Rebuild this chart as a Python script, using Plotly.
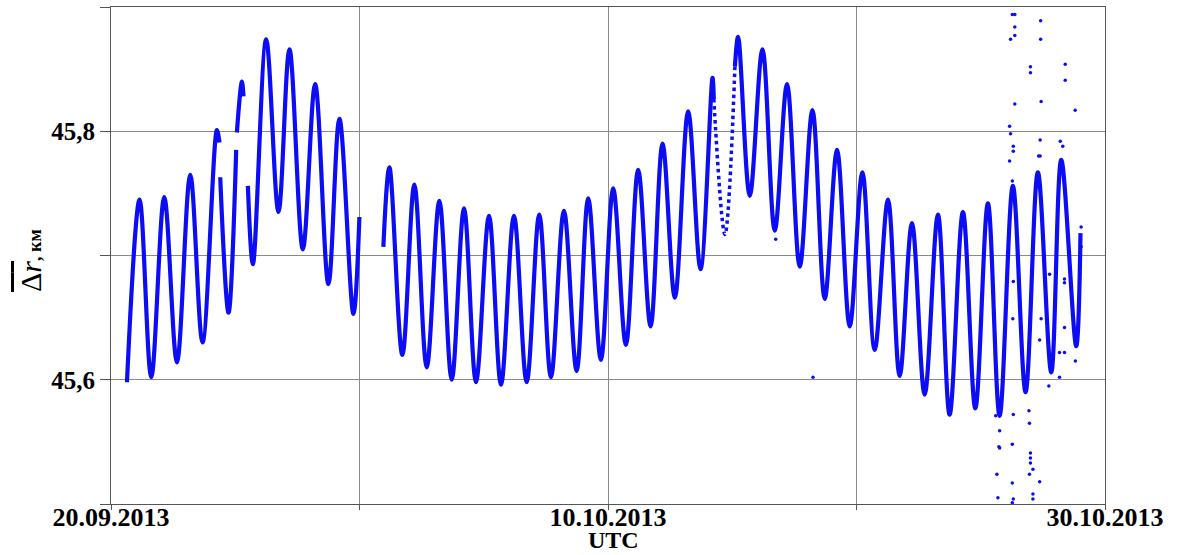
import pandas as pd
import plotly.graph_objects as go

# Time in days since 20.09.2013 00:00 UTC, mean distance in km.
# Daily extrema of the dense record; None marks gaps in the record.
t_main = [0.643, 1.150, 1.620, 2.143, 2.654, 3.189, 3.683, 4.262, 4.367, None,
          4.395, 4.729, 5.038, None,
          5.066, 5.267, 5.332, None,
          5.509, 5.710, 6.244, 6.739, 7.181, 7.720, 8.215, 8.749, 9.192, 9.755, 9.996, None,
          10.961, 11.202, 11.725, 12.207, 12.706, 13.213, 13.711, 14.206, 14.688, 15.211,
          15.694, 16.216, 16.727, 17.234, 17.704, 18.227, 18.737, 19.204, 19.714, 20.209,
          20.720, 21.214, 21.713, 22.195, 22.690, 23.225, 23.723, 24.206, 24.258, None,
          25.108, 25.235, 25.705, 26.216, 26.711, 27.205, 27.716, 28.227, 28.721, 29.216,
          29.727, 30.237, 30.731, 31.267, 31.737, 32.231, 32.742, 33.277, 33.747, 34.282,
          34.781, 35.288, 35.758, 36.293, 36.803, 37.298, 37.837, 38.239, 38.841, 39.014]
r_main = [45.598, 45.745, 45.602, 45.747, 45.614, 45.765, 45.630, 45.801, 45.791, None,
          45.763, 45.654, 45.785, None,
          45.799, 45.840, 45.828, None,
          45.756, 45.693, 45.874, 45.735, 45.866, 45.705, 45.838, 45.677, 45.810, 45.653, 45.731, None,
          45.707, 45.771, 45.620, 45.757, 45.610, 45.744, 45.600, 45.738, 45.598, 45.732,
          45.596, 45.732, 45.598, 45.733, 45.602, 45.736, 45.607, 45.746, 45.616, 45.754,
          45.628, 45.769, 45.643, 45.790, 45.666, 45.816, 45.689, 45.843, 45.826, None,
          45.852, 45.876, 45.748, 45.866, 45.720, 45.838, 45.691, 45.817, 45.665, 45.785,
          45.643, 45.767, 45.624, 45.745, 45.603, 45.726, 45.588, 45.733, 45.572, 45.735,
          45.577, 45.742, 45.571, 45.756, 45.590, 45.767, 45.606, 45.777, 45.627, 45.718]

# Sparsely sampled half-day after 14.10
t_sparse = [24.258, 24.706, 25.108]
r_sparse = [45.826, 45.717, 45.852]

# Isolated measurements
t_out = [26.75, 28.25, 35.60, 35.65, 35.69, 35.73, 35.76, 35.76,
         36.16, 36.16, 36.20, 36.20, 36.27, 36.27, 36.27, 36.27, 36.29, 36.31, 36.31, 36.31,
         36.31, 36.31, 36.37, 36.37, 36.37, 36.37, 36.94, 36.96, 36.96, 37.00, 37.00, 37.00,
         37.00, 37.00, 37.10, 37.10, 37.10, 37.33, 37.37, 37.37, 37.39, 37.39, 37.41, 37.41,
         37.43, 37.43, 37.74, 37.77, 38.17, 38.17, 38.20, 38.30, 38.37, 38.37, 38.37, 38.37,
         38.40, 38.40, 38.80, 38.81, 39.04, 39.04, 36.27]
r_out = [45.713, 45.602, 45.571, 45.524, 45.505, 45.546, 45.559, 45.545,
         45.804, 45.776, 45.874, 45.798, 45.894, 45.760, 45.548, 45.517, 45.649, 45.788, 45.784,
         45.679, 45.572, 45.504, 45.894, 45.884, 45.877, 45.822, 45.575, 45.565, 45.524, 45.852,
         45.847, 45.541, 45.537, 45.533, 45.528, 45.508, 45.504, 45.780, 45.632, 45.518, 45.793,
         45.780, 45.889, 45.874, 45.824, 45.649, 45.595, 45.685, 45.622, 45.602, 45.792, 45.788,
         45.681, 45.678, 45.642, 45.622, 45.854, 45.841, 45.817, 45.615, 45.723, 45.707, 45.501]

x_tick_days = [0, 10, 20, 30, 40]
x_tick_text = ["20.09.2013", "", "10.10.2013", "", "30.10.2013"]
y_tick_vals = [45.5, 45.6, 45.7, 45.8, 45.9]
y_tick_text = ["", "45,6", "", "45,8", ""]

START = pd.Timestamp("2013-09-20")


def to_time(days):
    return [None if d is None else START + pd.Timedelta(days=d) for d in days]


BLUE = "rgb(12,12,245)"
SERIF = "Liberation Serif, Times New Roman, serif"

fig = go.Figure()
fig.add_trace(go.Scatter(x=to_time(t_main), y=r_main, mode="lines",
                         line=dict(color=BLUE, width=4.2, shape="spline", smoothing=1),
                         connectgaps=False, hoverinfo="skip"))
fig.add_trace(go.Scatter(x=to_time(t_sparse), y=r_sparse, mode="lines",
                         line=dict(color=BLUE, width=3.5, shape="spline", smoothing=1, dash="dot"),
                         hoverinfo="skip"))
fig.add_trace(go.Scatter(x=to_time(t_out), y=r_out, mode="markers",
                         marker=dict(color=BLUE, size=3.5), hoverinfo="skip"))

fig.update_layout(
    width=1185, height=555,
    margin=dict(l=111, r=80, t=7, b=51),
    paper_bgcolor="white", plot_bgcolor="white",
    showlegend=False,
    font=dict(family=SERIF, color="black"),
    xaxis=dict(
        range=[START, START + pd.Timedelta(days=40)],
        tickmode="array",
        tickvals=to_time(x_tick_days),
        ticktext=x_tick_text,
        tickfont=dict(family=SERIF, size=26, color="black", weight="bold"),
        ticks="outside", ticklen=5, tickcolor="#555", tickwidth=1,
        ticklabelstandoff=-15,
        showgrid=True, gridcolor="#8a8a8a", gridwidth=1,
        showline=True, linecolor="#555", linewidth=1, mirror=True,
        zeroline=False,
    ),
    yaxis=dict(
        range=[45.5, 45.9],
        tickmode="array",
        tickvals=y_tick_vals,
        ticktext=y_tick_text,
        tickfont=dict(family=SERIF, size=25, color="black", weight="bold"),
        ticks="outside", ticklen=10, tickcolor="#555", tickwidth=1,
        showgrid=True, gridcolor="#8a8a8a", gridwidth=1,
        showline=True, linecolor="#555", linewidth=1, mirror=True,
        zeroline=False,
    ),
    annotations=[
        dict(text="<b>UTC</b>", x=0.506, y=-0.0724, xref="paper", yref="paper",
             xanchor="center", yanchor="middle", showarrow=False,
             font=dict(family=SERIF, size=24, color="black")),
        dict(text='<span style="text-decoration:overline">Δ<i>r</i></span>'
                  '<b><span style="font-size:18px">, км</span></b>',
             x=-0.081, y=0.49, xref="paper", yref="paper", textangle=-90,
             xanchor="center", yanchor="middle", showarrow=False,
             font=dict(family=SERIF, size=30, color="black")),
    ],
)

fig.write_html("out.html")
